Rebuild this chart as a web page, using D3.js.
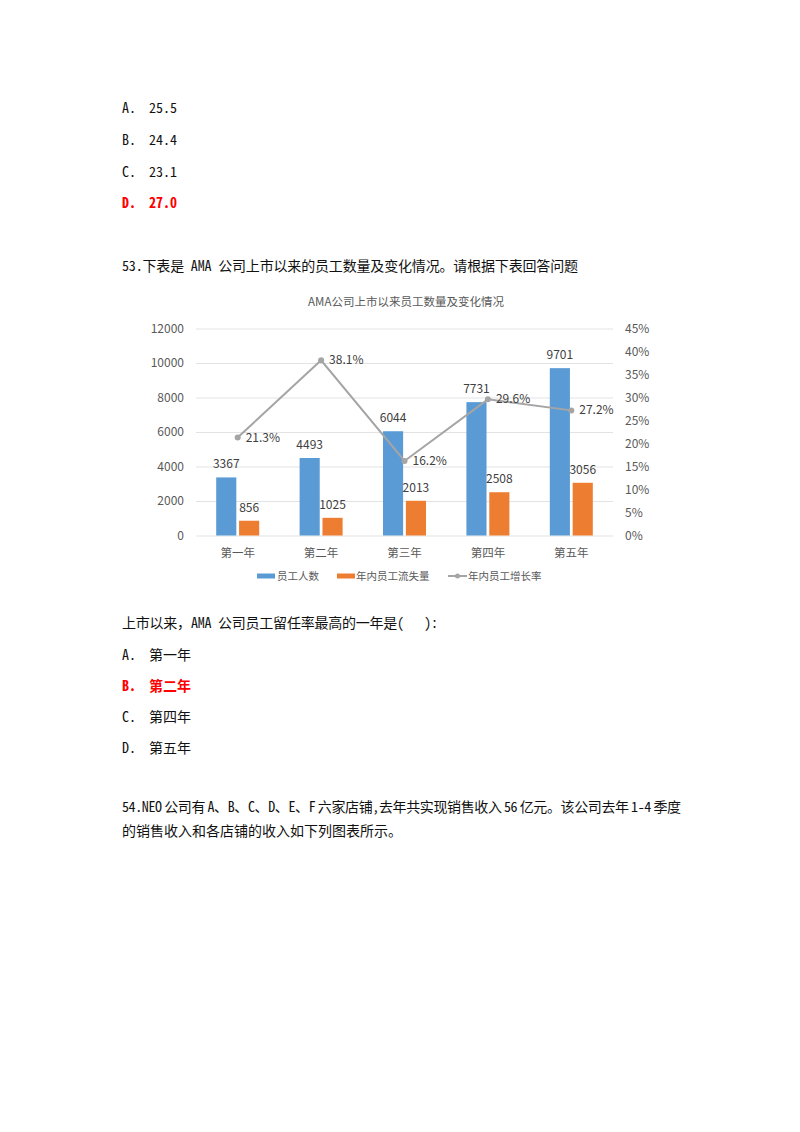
<!DOCTYPE html>
<html><head><meta charset="utf-8">
<script src="https://cdn.jsdelivr.net/npm/d3@7"></script>
<style>body{margin:0;background:#fff} text{white-space:pre}</style>
</head><body>
<svg id="page" width="800" height="1132"></svg>
<script>
// ---- data ----
const categories = ["第一年","第二年","第三年","第四年","第五年"];
const employees = [3367,4493,6044,7731,9701];
const attrition = [856,1025,2013,2508,3056];
const growthRate = [21.3,38.1,16.2,29.6,27.2];
const leftTicks = [0,2000,4000,6000,8000,10000,12000];
const rightTicks = [0,5,10,15,20,25,30,35,40,45];
const seriesNames = ["员工人数","年内员工流失量","年内员工增长率"];
const chartTitle = "AMA公司上市以来员工数量及变化情况";

const prevOptions = [["A.","25.5"],["B.","24.4"],["C.","23.1"],["D.","27.0"]];
const prevAnswer = 3;
const q53 = "53.下表是 AMA 公司上市以来的员工数量及变化情况。请根据下表回答问题";
const q53ask = "上市以来，AMA 公司员工留任率最高的一年是(   ):";
const q53Options = [["A.","第一年"],["B.","第二年"],["C.","第四年"],["D.","第五年"]];
const q53Answer = 1;
const q54 = ["54.NEO\u2009公司有\u2009A、B、C、D、E、F\u2009六家店铺,去年共实现销售收入\u200956\u2009亿元。该公司去年\u20091-4\u2009季度",
             "的销售收入和各店铺的收入如下列图表所示。"];

(function(){
// ---- page text ----
const svg = d3.select("#page");
const textFont = '"Noto Sans Mono CJK SC","Noto Sans CJK SC",sans-serif';
const T = svg.append("g").attr("font-family", textFont).attr("font-size", 14).attr("fill", "#111");

function optionRows(opts, ys, answer){
  opts.forEach((o,i)=>{
    const red = i===answer;
    const g = T.append("g").attr("fill", red ? "#ff0000" : "#111").attr("font-weight", red ? "bold" : "normal");
    g.append("text").attr("x",122).attr("y",ys[i]).text(o[0]);
    g.append("text").attr("x",149).attr("y",ys[i]).text(o[1]);
  });
}
function line(str, y, len){
  const t = T.append("text").attr("x",122).attr("y",y).text(str);
  if (len) t.attr("textLength",len).attr("lengthAdjust","spacing");
}
optionRows(prevOptions,[113,145,177,208],prevAnswer);
line(q53, 271, 456);
line(q53ask, 628, 316);
optionRows(q53Options,[660,691,722,753],q53Answer);
line(q54[0], 812, 559);
line(q54[1], 836, null);

// ---- chart ----
const chartFont = '"Noto Sans CJK SC","Noto Sans",sans-serif';
const C = svg.append("g").attr("font-family", chartFont);
const pL = 196, pR = 613, pT = 328.5, pB = 535.5;

const x = d3.scaleBand().domain(categories).range([pL,pR]);
const yL = d3.scaleLinear().domain([0,12000]).range([pB,pT]);
const yR = d3.scaleLinear().domain([0,45]).range([pB,pT]);
const inner = d3.scaleBand().domain([0,1]).range([-21.5,21.5]).paddingInner(0.12);
const cx = c => x(c) + x.bandwidth()/2;

// title
C.append("text").attr("x",406).attr("y",306).attr("text-anchor","middle")
  .attr("font-size",11.5).attr("fill","#595959").text(chartTitle);

// gridlines
const grid = C.append("g").attr("transform",`translate(${pL},0)`)
  .call(d3.axisLeft(yL).tickValues(leftTicks).tickSize(-(pR-pL)).tickFormat(""));
grid.select(".domain").remove();
grid.selectAll("line").attr("stroke","#e3e3e3").attr("stroke-width",1);

// left axis
const ax = C.append("g").attr("transform",`translate(${pL},0)`)
  .call(d3.axisLeft(yL).tickValues(leftTicks).tickSize(0).tickPadding(12).tickFormat(d3.format("d")));
ax.select(".domain").remove();
ax.selectAll("text").attr("font-size",12).attr("fill","#595959").attr("font-family",chartFont);

// right axis
const ar = C.append("g").attr("transform",`translate(${pR},0)`)
  .call(d3.axisRight(yR).tickValues(rightTicks).tickSize(0).tickPadding(12).tickFormat(d=>d+"%"));
ar.select(".domain").remove();
ar.selectAll("text").attr("font-size",12).attr("fill","#595959").attr("font-family",chartFont);

// bottom axis
const ab = C.append("g").attr("transform",`translate(0,${pB})`)
  .call(d3.axisBottom(x).tickSize(0).tickPadding(13));
ab.select(".domain").remove();
ab.selectAll("text").attr("font-size",11.5).attr("fill","#595959").attr("font-family",chartFont);

// bars
const barData = [
  {vals: employees, color:"#5b9bd5", k:0},
  {vals: attrition, color:"#ed7d31", k:1}
];
barData.forEach(s=>{
  const g = C.append("g");
  g.selectAll("rect").data(categories).join("rect")
    .attr("x", (c)=> cx(c) + inner(s.k))
    .attr("width", inner.bandwidth())
    .attr("y", (c,i)=> yL(s.vals[i]))
    .attr("height", (c,i)=> pB - yL(s.vals[i]))
    .attr("fill", s.color);
  g.selectAll("text").data(categories).join("text")
    .attr("x", (c)=> cx(c) + inner(s.k) + inner.bandwidth()/2)
    .attr("y", (c,i)=> yL(s.vals[i]) - 9)
    .attr("text-anchor","middle").attr("font-size",12).attr("fill","#404040")
    .text((c,i)=> s.vals[i]);
});

// line
const lineData = categories.map((c,i)=>({c, v: growthRate[i]}));
C.append("path").datum(lineData)
  .attr("d", d3.line().x(d=>cx(d.c)).y(d=>yR(d.v)))
  .attr("fill","none").attr("stroke","#a5a5a5").attr("stroke-width",2);
C.selectAll("circle.pt").data(lineData).join("circle").attr("class","pt")
  .attr("cx", d=>cx(d.c)).attr("cy", d=>yR(d.v)).attr("r",3).attr("fill","#a5a5a5");
C.selectAll("text.pl").data(lineData).join("text").attr("class","pl")
  .attr("x", d=>cx(d.c)+8).attr("y", d=>yR(d.v)+4)
  .attr("font-size",12).attr("fill","#404040").text(d=>d.v.toFixed(1)+"%");

// legend
const L = C.append("g").attr("font-size",10.5).attr("fill","#595959");
L.append("rect").attr("x",257).attr("y",573.5).attr("width",18).attr("height",5).attr("fill","#5b9bd5");
L.append("text").attr("x",277).attr("y",580).text(seriesNames[0]);
L.append("rect").attr("x",337).attr("y",573.5).attr("width",18).attr("height",5).attr("fill","#ed7d31");
L.append("text").attr("x",356).attr("y",580).text(seriesNames[1]);
L.append("line").attr("x1",448).attr("x2",467).attr("y1",576).attr("y2",576).attr("stroke","#a5a5a5").attr("stroke-width",2);
L.append("circle").attr("cx",457.5).attr("cy",576).attr("r",2.5).attr("fill","#a5a5a5");
L.append("text").attr("x",468).attr("y",580).text(seriesNames[2]);
})();
</script>
</body></html>
